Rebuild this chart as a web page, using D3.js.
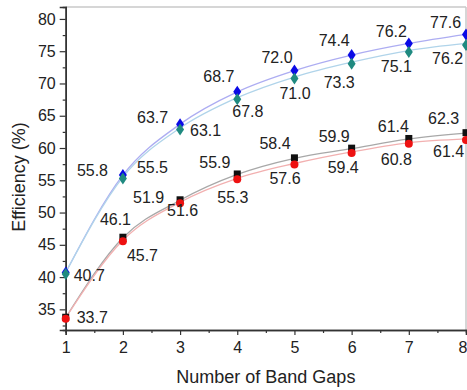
<!DOCTYPE html>
<html><head><meta charset="utf-8">
<script src="https://cdn.jsdelivr.net/npm/d3@7"></script>
<style>body{margin:0;background:#fff}svg{display:block}text{font-family:"Liberation Sans",Arial,sans-serif}</style>
</head><body><div id="c"></div>
<script>
const bandGaps = [1,2,3,4,5,6,7,8];
const blueVals  = [40.7,55.8,63.7,68.7,72.0,74.4,76.2,77.6];
const tealVals  = [40.7,55.5,63.1,67.8,71.0,73.3,75.1,76.2];
const blackVals = [33.7,46.1,51.9,55.9,58.4,59.9,61.4,62.3];
const redVals   = [33.7,45.7,51.6,55.3,57.6,59.4,60.8,61.4];
const yTicks = [35,40,45,50,55,60,65,70,75,80];
const xTicks = [1,2,3,4,5,6,7,8];
const showLabel = {blue:[0,1,1,1,1,1,1,1], teal:[1,1,1,1,1,1,1,1], black:[0,1,1,1,1,1,1,1], red:[1,1,1,1,1,1,1,1]};
// label offsets (px) from point: left edge dx, vertical centre dy
const labelOff = {
  blue:[[0,0],[-46,-5],[-43,-7],[-34,-15],[-33,-13],[-33,-15],[-33,-12],[-36,-12]],
  teal:[[8,2.5],[14,-10],[10,2],[-5,14],[-15,16],[-28,20],[-28,16],[-34,15]],
  black:[[0,0],[-23,-18],[-47,-3],[-38,-12],[-35,-15],[-33,-12],[-31,-12],[-38,-15]],
  red:[[11,0],[4,15],[-13,8],[-20,19],[-25,15],[-24,16],[-28,17],[-33,13]]
};

const W=467,H=390;
const svg=d3.select("#c").append("svg").attr("width",W).attr("height",H);
const x=d3.scaleLinear().domain([1,8]).range([65.7,466]);
const y=d3.scaleLinear().domain([31.8,81.85]).range([330,7]);

// frame (top/right light)
svg.append("line").attr("x1",x(1)).attr("x2",466).attr("y1",7).attr("y2",7).attr("stroke","#c8c8c8").attr("stroke-width",1.5);
svg.append("line").attr("x1",466).attr("x2",466).attr("y1",7).attr("y2",330).attr("stroke","#c8c8c8").attr("stroke-width",1.5);

// axes
const yAx=svg.append("g").attr("transform",`translate(${x(1)},0)`)
  .call(d3.axisLeft(y).tickValues(yTicks).tickSize(6).tickPadding(4).tickFormat(d3.format("d")));
const yMinor=svg.append("g").attr("transform",`translate(${x(1)},0)`)
  .call(d3.axisLeft(y).tickValues(d3.range(32.5,81.85,5)).tickSize(3).tickFormat(""));
const xAx=svg.append("g").attr("transform","translate(0,330)")
  .call(d3.axisBottom(x).tickValues(xTicks).tickSize(5).tickPadding(4).tickFormat(d3.format("d")));
const xMinor=svg.append("g").attr("transform","translate(0,330)")
  .call(d3.axisBottom(x).tickValues(d3.range(1.5,8,1)).tickSize(3).tickFormat(""));
[yAx,yMinor,xAx,xMinor].forEach(g=>{g.select(".domain").attr("stroke","#333").attr("stroke-width",1.5);
  g.selectAll(".tick line").attr("stroke","#333").attr("stroke-width",1.2);
  g.selectAll("text").attr("font-size",16).attr("fill","#222").style("font-family","Liberation Sans, Arial, sans-serif");});
xAx.selectAll("text").attr("dy","0.9em");
xAx.selectAll(".tick").filter(d=>d===8).select("text").attr("text-anchor","end").attr("x",1);

svg.append("text").attr("x",(x(1)+466)/2+0).attr("y",383).attr("text-anchor","middle")
  .attr("font-size",18).attr("fill","#222").text("Number of Band Gaps");
svg.append("text").attr("transform","translate(25,177) rotate(-90)").attr("text-anchor","middle")
  .attr("font-size",18).attr("fill","#222").text("Efficiency (%)");

// curves
const line=d3.line().x((d,i)=>x(bandGaps[i])).y(d=>y(d)).curve(d3.curveMonotoneX);
const series=[
  {k:"blue",v:blueVals,line:"#adadf2"},
  {k:"teal",v:tealVals,line:"#b0d4ea"},
  {k:"black",v:blackVals,line:"#a8a8a8"},
  {k:"red",v:redVals,line:"#f2b0b0"}];
series.forEach(s=>svg.append("path").attr("d",line(s.v)).attr("fill","none").attr("stroke",s.line).attr("stroke-width",1.3));

// markers
const diamond=(cx,cy)=>`M${cx},${cy-6}L${cx+4},${cy}L${cx},${cy+6}L${cx-4},${cy}Z`;
svg.append("g").selectAll("path").data(blueVals).join("path")
  .attr("d",(d,i)=>diamond(x(bandGaps[i]),y(d))).attr("fill","#0a0ae6");
svg.append("g").selectAll("path").data(tealVals).join("path")
  .attr("d",(d,i)=>diamond(x(bandGaps[i]),y(d)+1.5)).attr("fill","#1f8a80");
svg.append("g").selectAll("rect").data(blackVals).join("rect")
  .attr("x",(d,i)=>x(bandGaps[i])-3.5).attr("y",d=>y(d)-4).attr("width",7).attr("height",7).attr("fill","#111");
svg.append("g").selectAll("circle").data(redVals).join("circle")
  .attr("cx",(d,i)=>x(bandGaps[i])).attr("cy",d=>y(d)+1).attr("r",4).attr("fill","#ee1111");

// labels
series.forEach(s=>{
  svg.append("g").selectAll("text").data(s.v.map((v,i)=>({v,i})).filter(d=>showLabel[s.k][d.i])).join("text")
    .attr("x",d=>x(bandGaps[d.i])+labelOff[s.k][d.i][0])
    .attr("y",d=>y(d.v)+labelOff[s.k][d.i][1])
    .attr("dominant-baseline","central").attr("font-size",16).attr("fill","#222")
    .text(d=>d.v.toFixed(1));
});
</script></body></html>
